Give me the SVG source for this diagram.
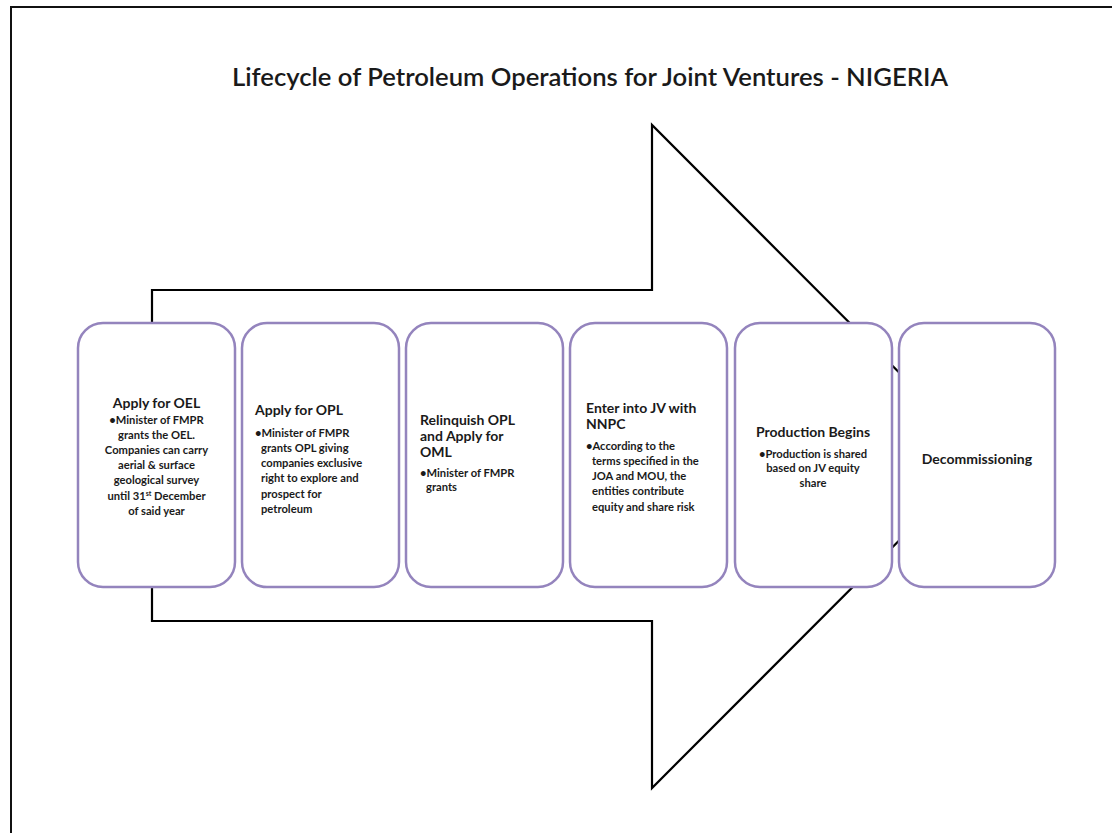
<svg xmlns="http://www.w3.org/2000/svg" width="1112" height="833" viewBox="0 0 1112 833">
<style>
.frame{fill:none;stroke:#111;stroke-width:2}
.arrow{fill:#fff;stroke:#000;stroke-width:2.2;stroke-linejoin:miter}
.box{fill:#fff;stroke:#9484bd;stroke-width:2.5}
text{font-family:Lato,"Open Sans","Liberation Sans",sans-serif;fill:#1a1a1a}
.title{font-size:25px;font-weight:600}
.h{font-size:14px;font-weight:700}
.b{font-size:11.2px;font-weight:700}
.c{text-anchor:middle}
</style>
<rect x="0" y="0" width="1112" height="833" fill="#fff"/>
<path class="frame" d="M11,833 V7 H1112"/>
<text class="title" x="590" y="86" text-anchor="middle" textLength="716" lengthAdjust="spacingAndGlyphs">Lifecycle of Petroleum Operations for Joint Ventures - NIGERIA</text>
<g id="connectors">
<polygon class="arrow" points="152,290 652,290 652,125 983,456.5 652,788 652,621 152,621"/>
</g>
<g id="n1">
<rect class="box" x="78" y="323" width="157" height="264" rx="25" ry="25"/>
<text class="h c" x="156.5" y="408">Apply for OEL</text>
<text class="b c" x="156.5" y="424">•Minister of FMPR</text>
<text class="b c" x="156.5" y="439">grants the OEL.</text>
<text class="b c" x="156.5" y="454">Companies can carry</text>
<text class="b c" x="156.5" y="469">aerial &amp; surface</text>
<text class="b c" x="156.5" y="484">geological survey</text>
<text class="b c" x="156.5" y="500">until 31<tspan font-size="7" dy="-4">st</tspan><tspan dy="4"> December</tspan></text>
<text class="b c" x="156.5" y="515">of said year</text>
</g>
<g id="n2">
<rect class="box" x="242" y="323" width="157" height="264" rx="25" ry="25"/>
<text class="h" x="255" y="415">Apply for OPL</text>
<text class="b" x="255" y="437">•Minister of FMPR</text>
<text class="b" x="261" y="452">grants OPL giving</text>
<text class="b" x="261" y="467">companies exclusive</text>
<text class="b" x="261" y="482">right to explore and</text>
<text class="b" x="261" y="498">prospect for</text>
<text class="b" x="261" y="513">petroleum</text>
</g>
<g id="n3">
<rect class="box" x="406" y="323" width="157" height="264" rx="25" ry="25"/>
<text class="h" x="420" y="425">Relinquish OPL</text>
<text class="h" x="420" y="441">and Apply for</text>
<text class="h" x="420" y="457">OML</text>
<text class="b" x="420" y="477">•Minister of FMPR</text>
<text class="b" x="426" y="491">grants</text>
</g>
<g id="n4">
<rect class="box" x="570" y="323" width="157" height="264" rx="25" ry="25"/>
<text class="h" x="586" y="413">Enter into JV with</text>
<text class="h" x="586" y="429">NNPC</text>
<text class="b" x="586" y="450">•According to the</text>
<text class="b" x="592" y="465">terms specified in the</text>
<text class="b" x="592" y="480">JOA and MOU, the</text>
<text class="b" x="592" y="495">entities contribute</text>
<text class="b" x="592" y="511">equity and share risk</text>
</g>
<g id="n5">
<rect class="box" x="735" y="323" width="157" height="264" rx="25" ry="25"/>
<text class="h c" x="813" y="437">Production Begins</text>
<text class="b c" x="813" y="458">•Production is shared</text>
<text class="b c" x="813" y="472">based on JV equity</text>
<text class="b c" x="813" y="487">share</text>
</g>
<g id="n6">
<rect class="box" x="899" y="323" width="156" height="264" rx="25" ry="25"/>
<text class="h c" x="977" y="464">Decommissioning</text>
</g>
</svg>
